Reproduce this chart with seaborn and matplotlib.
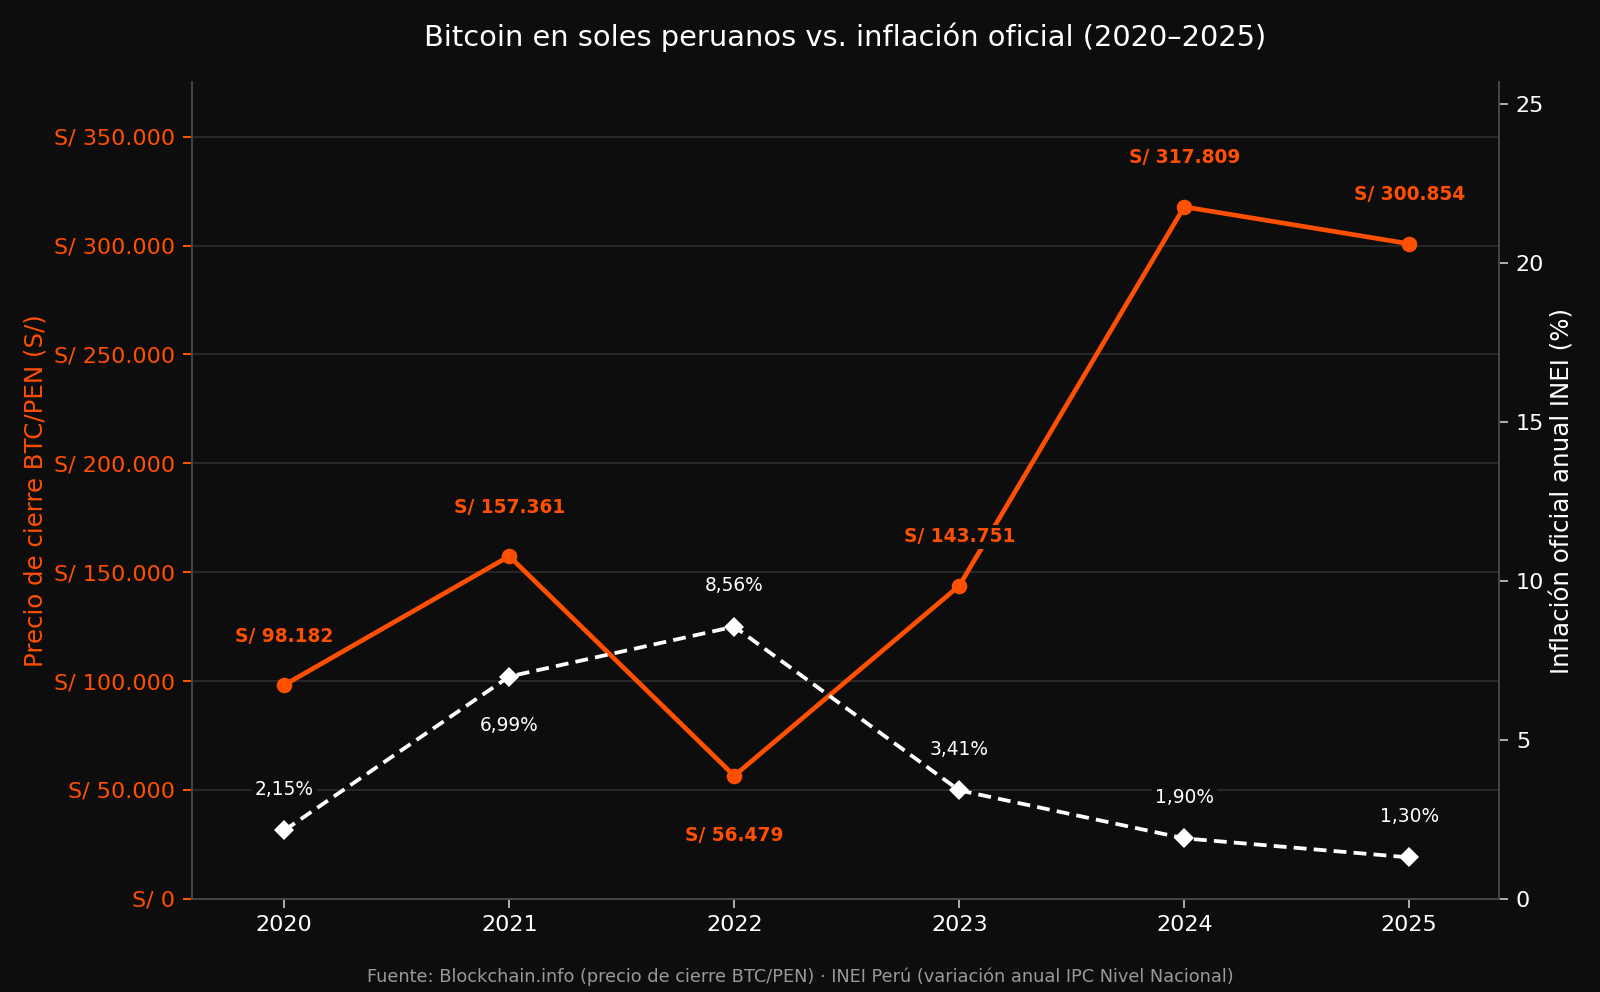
import matplotlib
matplotlib.use("Agg")
import matplotlib.pyplot as plt
import matplotlib.ticker as mticker
import seaborn as sns
import pandas as pd

years = [2020, 2021, 2022, 2023, 2024, 2025]
btc_pen = [98182, 157361, 56479, 143751, 317809, 300854]
inflation = [2.15, 6.99, 8.56, 3.41, 1.90, 1.30]
btc_labels = ["S/ 98.182", "S/ 157.361", "S/ 56.479", "S/ 143.751", "S/ 317.809", "S/ 300.854"]
inf_labels = ["2,15%", "6,99%", "8,56%", "3,41%", "1,90%", "1,30%"]

BG = "#0d0d0d"
ORANGE = "#ff4f00"
WHITE = "#ffffff"
GRID = "#2b2b2b"
SPINE = "#444444"

sns.set_theme(style="dark")
plt.rcParams["font.family"] = ["DejaVu Sans"]

df = pd.DataFrame({"year": years, "btc": btc_pen, "inf": inflation})

fig = plt.figure(figsize=(10, 6.2), dpi=160, facecolor=BG)
ax = fig.add_axes([0.12, 0.094, 0.817, 0.823])
ax.set_facecolor(BG)
ax2 = ax.twinx()

sns.lineplot(data=df, x="year", y="btc", ax=ax, color=ORANGE, linewidth=2.1,
             marker="o", markersize=7, markeredgewidth=0, zorder=3)
sns.lineplot(data=df, x="year", y="inf", ax=ax2, color=WHITE, linewidth=1.7,
             linestyle=(0, (3.4, 1.9)), marker="D", markersize=6.3, markeredgewidth=0, zorder=3)

ax.set_xlim(2019.59, 2025.4)
ax.set_ylim(0, 375000)
ax2.set_ylim(0, 25.68)
ax.set_xticks(years)
ax.set_xticklabels([str(y) for y in years])
ax.yaxis.set_major_locator(mticker.MultipleLocator(50000))
ax.yaxis.set_major_formatter(mticker.FuncFormatter(lambda v, p: "S/ " + f"{int(v):,}".replace(",", ".")))
ax2.yaxis.set_major_locator(mticker.MultipleLocator(5))

ax.grid(axis="y", color=GRID, linewidth=0.8)
ax.grid(axis="x", visible=False)
ax2.grid(False)

for a in (ax, ax2):
    a.spines["top"].set_visible(False)
    for s in ("left", "right", "bottom"):
        a.spines[s].set_color(SPINE)
        a.spines[s].set_linewidth(0.9)
        a.spines[s].set_visible(True)

ax.tick_params(axis="y", colors=ORANGE, labelsize=10, length=4, width=0.9, left=True)
ax.tick_params(axis="x", colors=WHITE, labelsize=10, length=4, width=0.9, bottom=True)
ax.tick_params(axis="x", color="#aaaaaa")
ax2.tick_params(axis="y", colors=WHITE, labelsize=10, length=4, width=0.9, right=True)
ax2.tick_params(axis="y", color="#aaaaaa")

ax.set_xlabel("")
ax.set_ylabel("Precio de cierre BTC/PEN (S/)", color=ORANGE, fontsize=11, labelpad=3)
ax2.set_ylabel("Inflación oficial anual INEI (%)", color=WHITE, fontsize=11, labelpad=3)

bbox = dict(boxstyle="square,pad=0.15", facecolor=BG, edgecolor="none")
for i, (x, y, lab) in enumerate(zip(years, btc_pen, btc_labels)):
    off = -27 if i == 2 else 22
    ax.annotate(lab, (x, y), xytext=(0, off), textcoords="offset points",
                ha="center", va="center", color=ORANGE, fontsize=8.4,
                fontweight="bold", bbox=bbox, zorder=5)
for i, (x, y, lab) in enumerate(zip(years, inflation, inf_labels)):
    off = -22 if i == 1 else 18.5
    ax2.annotate(lab, (x, y), xytext=(0, off), textcoords="offset points",
                 ha="center", va="center", color=WHITE, fontsize=8.4,
                 bbox=bbox, zorder=5)

fig.text(0.528, 0.962, "Bitcoin en soles peruanos vs. inflación oficial (2020–2025)",
         ha="center", va="center", color=WHITE, fontsize=13)
fig.text(0.5, 0.015, "Fuente: Blockchain.info (precio de cierre BTC/PEN) · INEI Perú (variación anual IPC Nivel Nacional)",
         ha="center", va="center", color="#999999", fontsize=8)

fig.savefig("out.png", dpi=160, facecolor=BG)
